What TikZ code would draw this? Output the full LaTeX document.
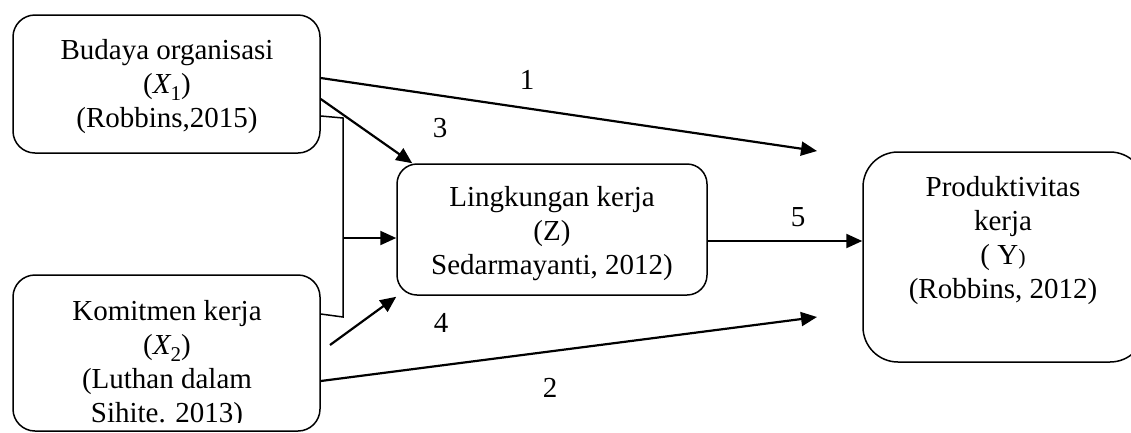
\documentclass[tikz,border=0pt]{standalone}
\usepackage{fontspec}
\setmainfont{Liberation Serif}
\usetikzlibrary{arrows.meta,calc}
% variable symbol with a lowered index, set in the text font
\newcommand{\varsym}[2]{{\itshape #1}\raisebox{-0.22em}{\fontsize{21}{21}\selectfont #2}}
\begin{document}
\begin{tikzpicture}[x=1pt,y=-1pt,
  box/.style={draw,line width=1.5pt,rounded corners=22pt,inner sep=0pt},
  lbl/.style={align=center,font=\fontsize{29}{34}\selectfont,inner sep=0pt},
  num/.style={font=\fontsize{29}{34}\selectfont,inner sep=0pt},
  arr/.style={line width=2.2pt,-{Triangle[length=16pt,width=14pt]}},
  link/.style={line width=1.5pt}]
\useasboundingbox (0,0) rectangle (1131,432);

% variable boxes
\node[box,minimum width=307pt,minimum height=138pt] (b1) at (166.5,84) {};
\node[box,minimum width=307pt,minimum height=156pt] (b2) at (166.5,353) {};
\node[box,rounded corners=20pt,minimum width=310pt,minimum height=131pt] (z) at (552,229.5) {};
\node[box,rounded corners=35pt,minimum width=282pt,minimum height=210pt] (y) at (1004,257) {};

% box texts
\node[lbl] (t1) at (167,87) {Budaya organisasi\\(\varsym{X}{1})\\(Robbins,2015)};
\begin{scope}
  \clip (0,0) rectangle (1131,422);
  \node[lbl] (t2) at (167,365) {Komitmen kerja\\(\varsym{X}{2})\\(Luthan dalam\\Sihite. 2013)};
\end{scope}
\node[lbl] (tz) at (552,234) {Lingkungan kerja\\(Z)\\Sedarmayanti, 2012)};
\node[lbl] (ty) at (1003,241) {Produktivitas\\kerja\\( Y{\fontsize{22}{34}\selectfont)}\\(Robbins, 2012)};

% free ends and junctions
\coordinate (e1) at (817,151);
\coordinate (e2) at (817,317);
\coordinate (s4) at (330,345);
\coordinate (j1) at (343,118);
\coordinate (j2) at (343,317);
\coordinate (j3) at (343,238);

% connectors
\draw[arr] ([yshift=6pt]b1.east) -- (e1);
\draw[arr] ([yshift=-15pt]b1.east) -- ([xshift=16pt]z.north west);
\draw[link] ([yshift=-32pt]b1.east) -- (j1) -- (j2) -- ([yshift=39pt]b2.east);
\draw[arr] (j3) -- (j3 -| z.west);
\draw[arr] (s4) -- ([yshift=-1pt]z.south west);
\draw[arr] ([yshift=-28pt]b2.east) -- (e2);
\draw[arr] ([yshift=-11.5pt]z.east) -- ([yshift=-11.5pt]z.east -| y.west);

% path labels
\node[num] (n1) at (527,80) {1};
\node[num] (n2) at (550,388) {2};
\node[num] (n3) at (440,128) {3};
\node[num] (n4) at (441,323) {4};
\node[num] (n5) at (798,217) {5};
\end{tikzpicture}
\end{document}
